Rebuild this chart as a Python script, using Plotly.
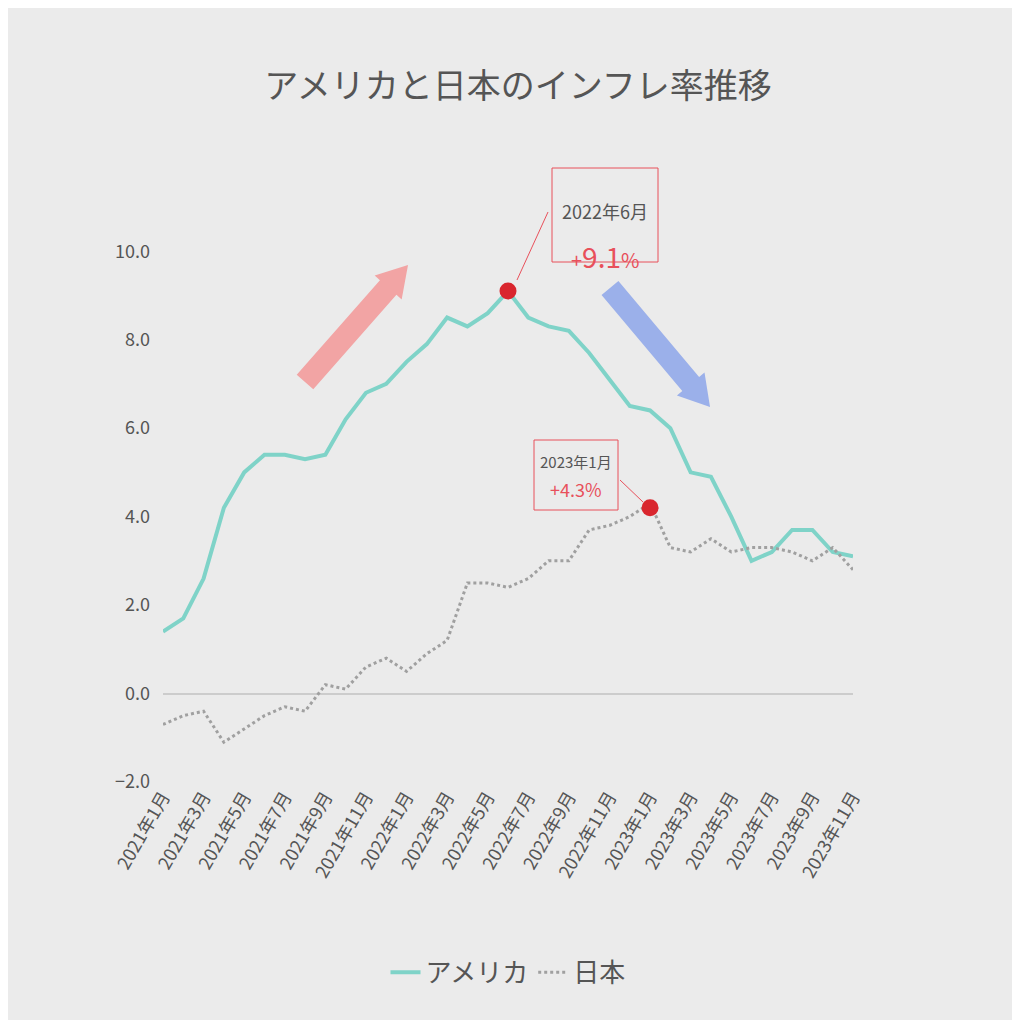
import math
import plotly.graph_objects as go

months = [f"{y}年{m}月" for y in (2021, 2022, 2023) for m in range(1, 13)][:35]
usa = [1.4, 1.7, 2.6, 4.2, 5.0, 5.4, 5.4, 5.3, 5.4, 6.2, 6.8, 7.0,
       7.5, 7.9, 8.5, 8.3, 8.6, 9.1, 8.5, 8.3, 8.2, 7.7, 7.1, 6.5,
       6.4, 6.0, 5.0, 4.9, 4.0, 3.0, 3.2, 3.7, 3.7, 3.2, 3.1]
japan = [-0.7, -0.5, -0.4, -1.1, -0.8, -0.5, -0.3, -0.4, 0.2, 0.1, 0.6, 0.8,
         0.5, 0.9, 1.2, 2.5, 2.5, 2.4, 2.6, 3.0, 3.0, 3.7, 3.8, 4.0,
         4.3, 3.3, 3.2, 3.5, 3.2, 3.3, 3.3, 3.2, 3.0, 3.3, 2.8]
peaks_x = ["2022年6月", "2023年1月"]
peaks_y = [9.1, 4.2]

FONT = "Noto Sans CJK JP, Noto Sans, sans-serif"
OFF = 8  # page margin of the browser
L, R, T, B = 155, 175, 199, 246
W = 1020 - L - R
H = 1020 - T - B


def to_paper(x, y):
    return (x - OFF - L) / W, (1020 - B - (y - OFF)) / H


def arrow(x0, y0, x1, y1, w=22, hw=36, hl=30):
    # block arrow given in reference pixel coords -> paper path
    dx, dy = x1 - x0, y1 - y0
    n = math.hypot(dx, dy)
    ux, uy = dx / n, dy / n
    px, py = -uy, ux
    bx, by = x1 - ux * hl, y1 - uy * hl
    pts = [(x0 + px * w / 2, y0 + py * w / 2), (bx + px * w / 2, by + py * w / 2),
           (bx + px * hw / 2, by + py * hw / 2), (x1, y1),
           (bx - px * hw / 2, by - py * hw / 2), (bx - px * w / 2, by - py * w / 2),
           (x0 - px * w / 2, y0 - py * w / 2)]
    conv = [to_paper(x, y) for x, y in pts]
    return "M " + " L ".join(f"{a:.4f},{b:.4f}" for a, b in conv) + " Z"


def callout(fig, x0, y0, x1, y1, top, bottom, top_size, bottom_size):
    a0, b0 = to_paper(x0, y1)
    a1, b1 = to_paper(x1, y0)
    fig.add_shape(type="rect", xref="paper", yref="paper", x0=a0, y0=b0, x1=a1, y1=b1,
                  line=dict(color="#e8505b", width=1), fillcolor="#ebebeb")
    cx = (a0 + a1) / 2
    h = b1 - b0
    fig.add_annotation(xref="paper", yref="paper", x=cx, y=b1 - h * 0.3, showarrow=False,
                       text=top, font=dict(size=top_size, color="#555"))
    fig.add_annotation(xref="paper", yref="paper", x=cx, y=b0 + h * 0.3, showarrow=False,
                       text=bottom, font=dict(size=bottom_size, color="#e8505b"))


fig = go.Figure()
fig.add_trace(go.Scatter(x=months, y=usa, mode="lines", name="アメリカ",
                         line=dict(color="#7fd3c8", width=4)))
fig.add_trace(go.Scatter(x=months, y=japan, mode="lines", name="日本",
                         line=dict(color="#a0a0a0", width=3, dash="dot")))

fig.add_shape(type="path", xref="paper", yref="paper", line_width=0,
              fillcolor="#f2a4a4", path=arrow(305, 382, 408, 265))
fig.add_shape(type="path", xref="paper", yref="paper", line_width=0,
              fillcolor="#9bb0ea", path=arrow(610, 288, 710, 407))

# connector lines
for px, py, lx, ly in [("2022年6月", 9.1, 548, 212), ("2023年1月", 4.2, 620, 480)]:
    fig.add_annotation(x=px, y=py, axref="pixel", ayref="pixel", text="",
                       ax=0, ay=0, showarrow=False)
lx0, ly0 = to_paper(548, 212)
lx1, ly1 = to_paper(517, 280)
fig.add_shape(type="line", xref="paper", yref="paper", x0=lx0, y0=ly0, x1=lx1, y1=ly1,
              line=dict(color="#e8505b", width=1))
lx0, ly0 = to_paper(620, 480)
lx1, ly1 = to_paper(643, 502)
fig.add_shape(type="line", xref="paper", yref="paper", x0=lx0, y0=ly0, x1=lx1, y1=ly1,
              line=dict(color="#e8505b", width=1))

callout(fig, 552, 168, 658, 262, "2022年6月",
        "+<span style='font-size:28px'>9.1</span>%", 18, 20)
callout(fig, 534, 440, 618, 510, "2023年1月", "+4.3%", 15, 18)

fig.add_trace(go.Scatter(x=peaks_x, y=peaks_y, mode="markers", showlegend=False,
                         marker=dict(color="#d9262e", size=17)))

fig.update_layout(
    width=1020, height=1020,
    paper_bgcolor="#ebebeb", plot_bgcolor="#ebebeb",
    font=dict(family=FONT, color="#555"),
    title=dict(text="アメリカと日本のインフレ率推移", x=0.5, y=0.935,
               font=dict(size=34, color="#555")),
    margin=dict(l=L, r=R, t=T, b=B),
    legend=dict(orientation="h", x=0.5, xanchor="center", y=-0.29, yanchor="top",
                font=dict(size=26)),
    xaxis=dict(tickangle=-60, tickfont=dict(size=18), showgrid=False,
               tickvals=months[::2], ticks=""),
    yaxis=dict(range=[-2, 11], dtick=2, tickformat=".1f", showgrid=False,
               tickfont=dict(size=18), zeroline=True, zerolinecolor="#cccccc",
               zerolinewidth=2, ticklabelstandoff=12),
)

fig.write_html("out.html")
